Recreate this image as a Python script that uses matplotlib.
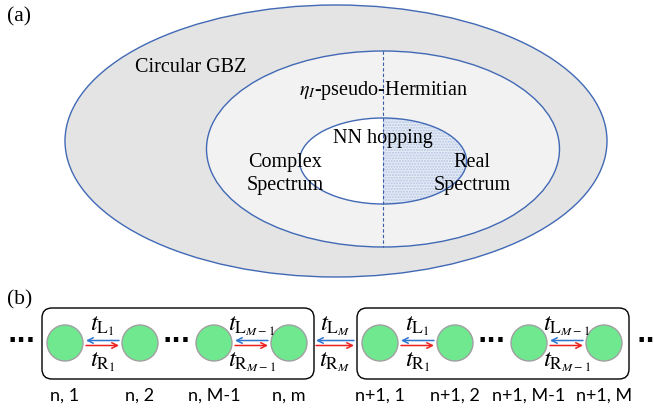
import matplotlib.pyplot as plt
from matplotlib.patches import Ellipse, Rectangle, FancyBboxPatch, Circle

# panel (a) region labels
outer_label = "Circular GBZ"
middle_label = r"$\eta_I$-pseudo-Hermitian"
inner_label = "NN hopping"
left_label = "Complex\nSpectrum"
right_label = "Real\nSpectrum"

# panel (b) chain labels
cell_sites = [["n, 1", "n, 2", "n, M-1", "n, m"],
              ["n+1, 1", "n+1, 2", "n+1, M-1", "n+1, M"]]
hop_top = [r"$t_{\mathrm{L}_1}$", None, r"$t_{\mathrm{L}_{M-1}}$"]
hop_bottom = [r"$t_{\mathrm{R}_1}$", None, r"$t_{\mathrm{R}_{M-1}}$"]
inter_top = r"$t_{\mathrm{L}_M}$"
inter_bottom = r"$t_{\mathrm{R}_M}$"

serif = "Liberation Serif"
sans = "Lato"
edge_blue = "#4169b5"
fs = 14.5
mfs = 18

fig = plt.figure(figsize=(6.54, 4.10), dpi=100)
ax = fig.add_axes([0, 0, 1, 1])
ax.set_xlim(0, 654)
ax.set_ylim(410, 0)
ax.axis("off")
plt.rcParams["mathtext.fontset"] = "stix"

# ---- (a) nested ellipses
ax.add_patch(Ellipse((336, 142), 542, 272, facecolor="#e4e4e4", edgecolor=edge_blue, lw=1.0))
ax.add_patch(Ellipse((383, 150), 353, 196, facecolor="#f2f2f2", edgecolor=edge_blue, lw=1.0))
ax.add_patch(Ellipse((383, 162), 167, 86, facecolor="white", edgecolor="none"))
half = Ellipse((383, 162), 167, 86, facecolor="#e6ecf6", edgecolor="#b3c4e2", hatch="......", lw=0)
ax.add_patch(half)
clip = Rectangle((383, 100), 120, 130, transform=ax.transData)
half.set_clip_path(clip)
ax.add_patch(Ellipse((383, 162), 167, 86, facecolor="none", edgecolor=edge_blue, lw=1.0))
ax.plot([383, 383], [52, 248], color="#3b5da8", lw=0.8, ls=(0, (3, 2)))

ax.text(7, 17, "(a)", fontsize=15.5, family=serif, va="center", ha="left")
ax.text(191, 67, outer_label, fontsize=fs, family=serif, va="center", ha="center")
ax.text(383, 91, middle_label, fontsize=fs, family=serif, va="center", ha="center")
ax.text(383, 139, inner_label, fontsize=fs, family=serif, va="center", ha="center")
ax.text(285, 174, left_label, fontsize=fs, family=serif, va="center", ha="center", linespacing=1.35)
ax.text(472, 174, right_label, fontsize=fs, family=serif, va="center", ha="center", linespacing=1.35)

# ---- (b) chain of two unit cells
ax.text(7, 300, "(b)", fontsize=15.5, family=serif, va="center", ha="left")
box_left = [42, 357]
site_dx = [23, 98, 172, 247]
cy = 344
r = 18


def arrows(x0, x1):
    ax.annotate("", xy=(x0, cy - 2.5), xytext=(x1, cy - 2.5),
                arrowprops=dict(arrowstyle="->", color="#2e75d0", lw=1.1, shrinkA=0, shrinkB=0))
    ax.annotate("", xy=(x1, cy + 2.5), xytext=(x0, cy + 2.5),
                arrowprops=dict(arrowstyle="->", color="#ee2020", lw=1.1, shrinkA=0, shrinkB=0))


for c, bx in enumerate(box_left):
    ax.add_patch(FancyBboxPatch((bx, 309), 272, 71, boxstyle="round,pad=0,rounding_size=10",
                                facecolor="white", edgecolor="black", lw=1.0))
    xs = [bx + d for d in site_dx]
    for i, x in enumerate(xs):
        ax.add_patch(Circle((x, cy), r, facecolor="#70e890", edgecolor="#a0a0a0", lw=1.0))
        ax.text(x, 396, cell_sites[c][i], fontsize=13, family=sans, va="center", ha="center")
    for i in range(3):
        if hop_top[i] is None:
            ax.text((xs[i] + xs[i + 1]) / 2, cy - 3, "···", fontsize=18, fontweight="bold",
                    va="center", ha="center")
            continue
        arrows(xs[i] + r + 3, xs[i + 1] - r - 3)
        mid = (xs[i] + xs[i + 1]) / 2
        ax.text(mid, 338, hop_top[i], fontsize=mfs, va="bottom", ha="center")
        ax.text(mid, 350, hop_bottom[i], fontsize=mfs, va="top", ha="center")

arrows(316, 354)
ax.text(335, 338, inter_top, fontsize=mfs, va="bottom", ha="center")
ax.text(335, 350, inter_bottom, fontsize=mfs, va="top", ha="center")
ax.text(22, cy - 3, "···", fontsize=18, fontweight="bold", va="center", ha="center")
ax.text(646, cy - 3, "··", fontsize=18, fontweight="bold", va="center", ha="center")

fig.savefig("out.png", dpi=100)
